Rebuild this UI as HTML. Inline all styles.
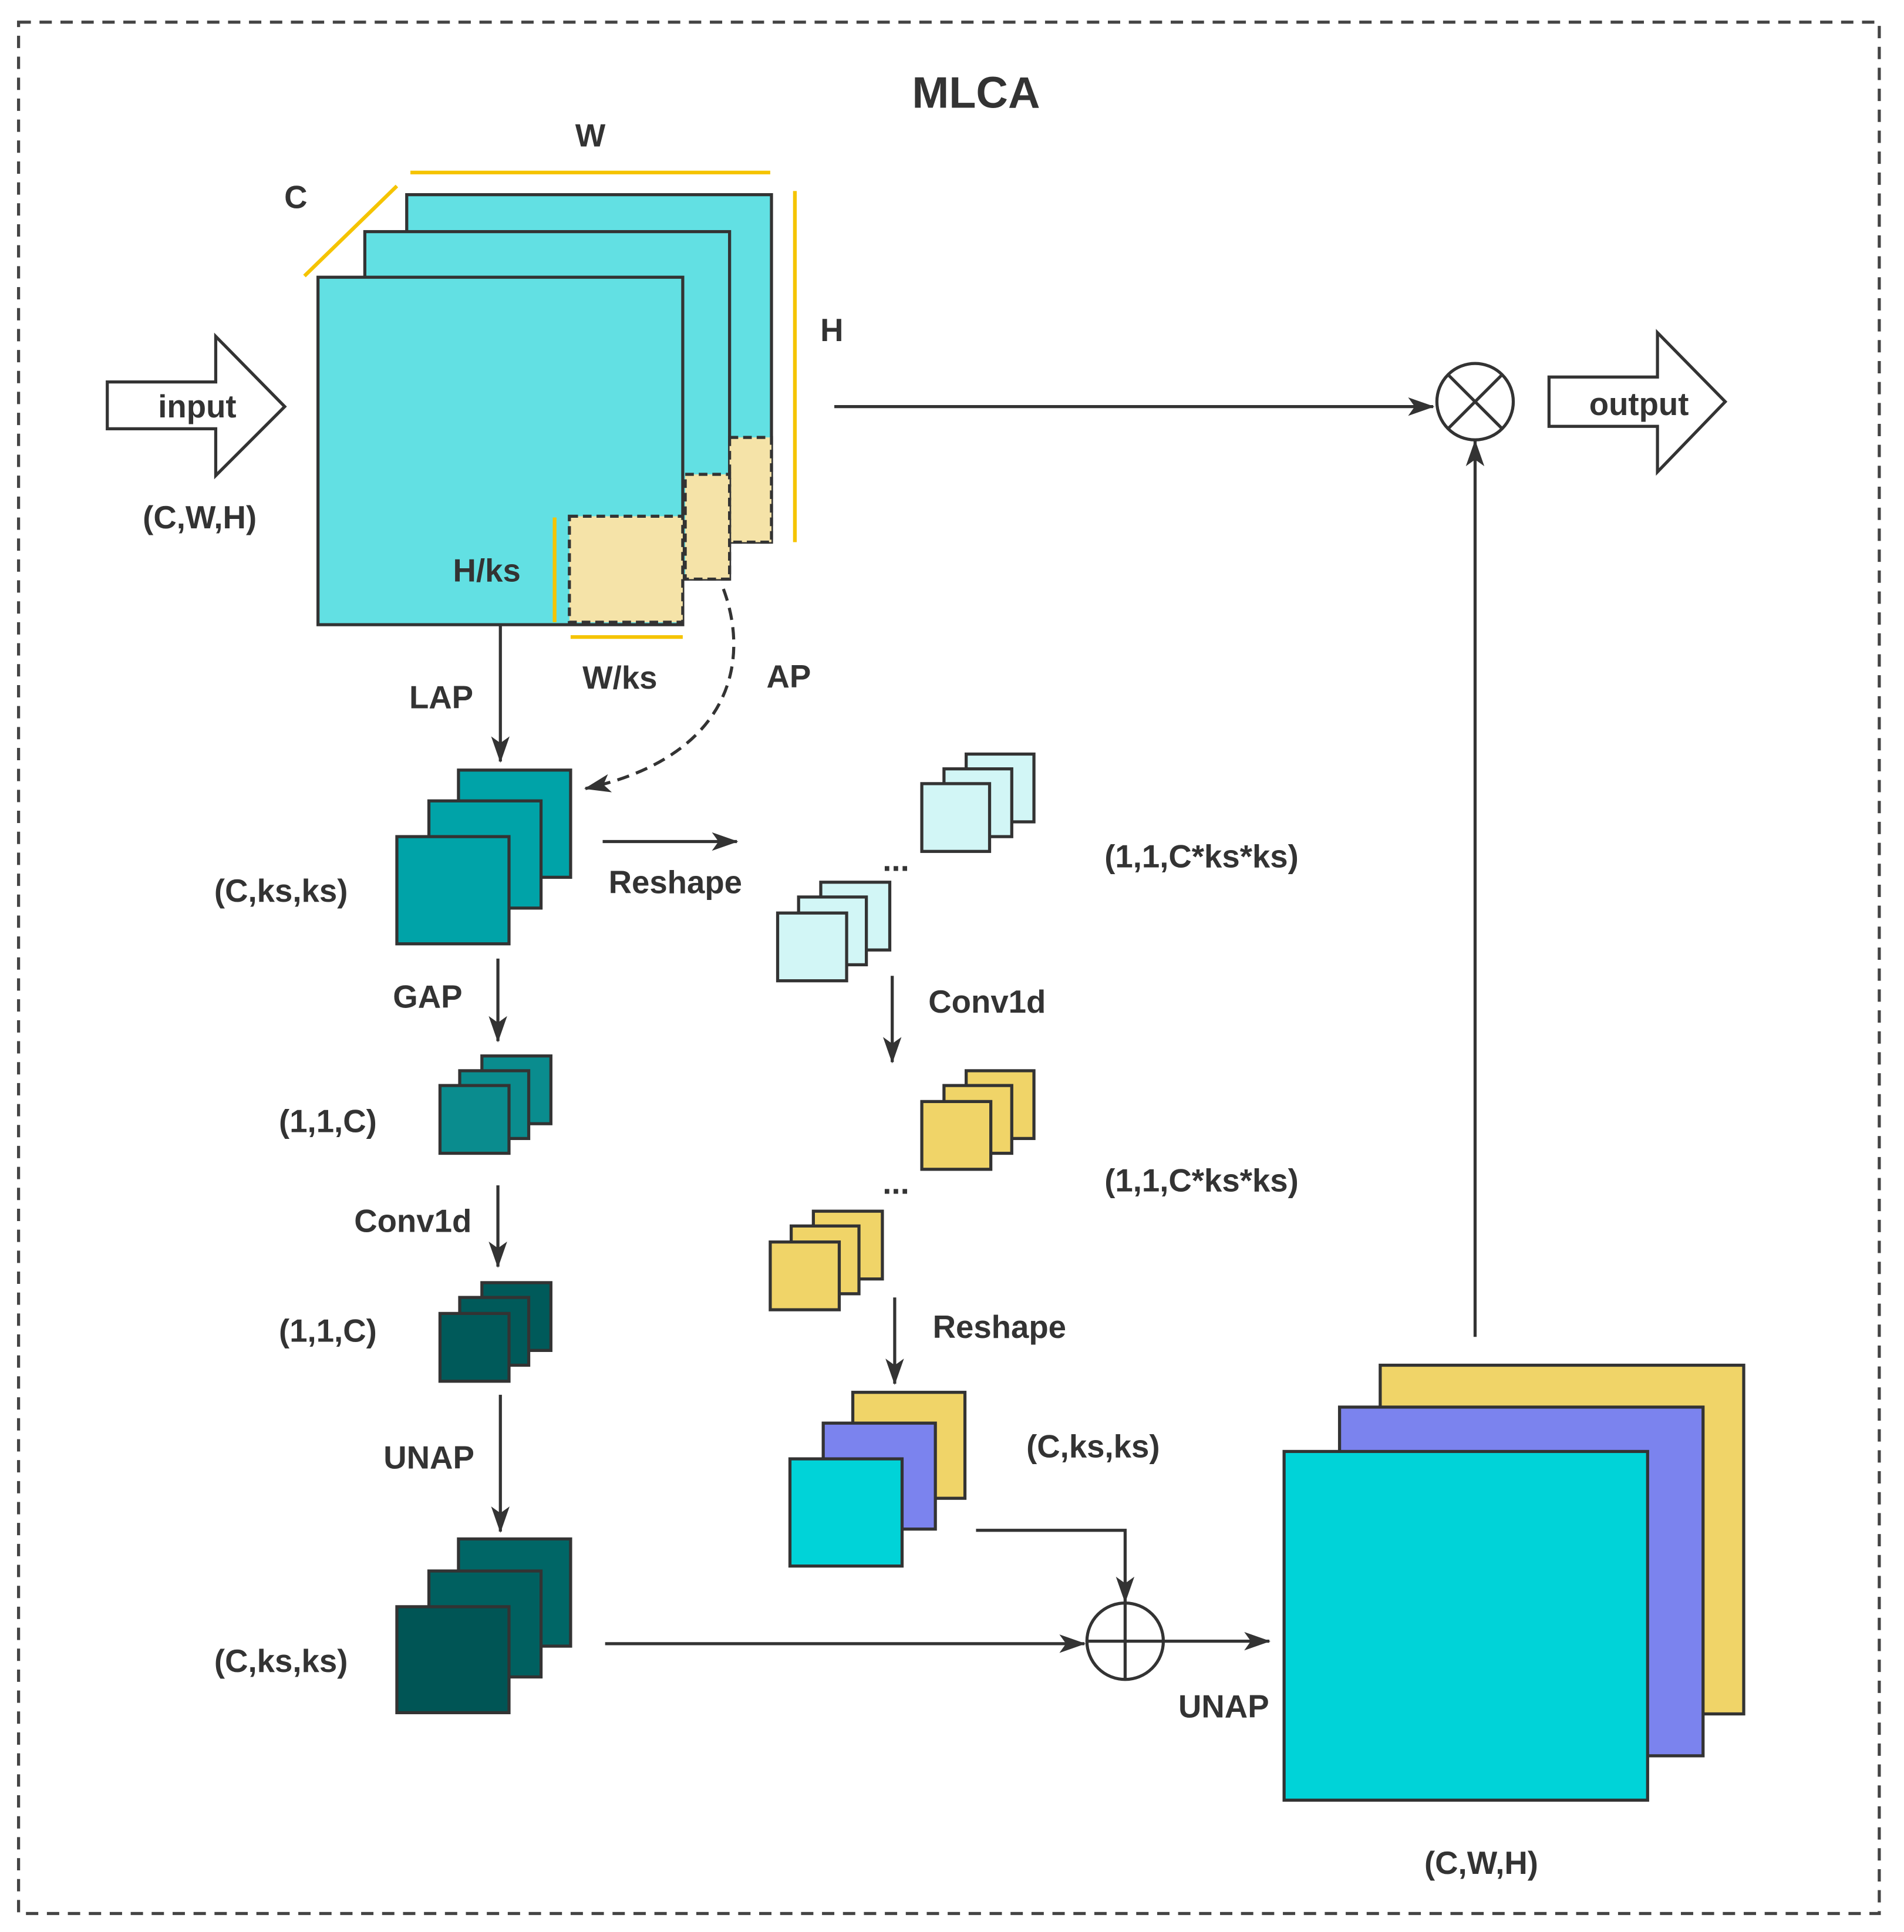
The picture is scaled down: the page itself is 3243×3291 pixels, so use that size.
<!DOCTYPE html>
<html><head><meta charset="utf-8"><style>
html,body{margin:0;padding:0;background:#fff;}
svg{display:block;}
text{font-family:"Liberation Sans",sans-serif;font-weight:bold;fill:#333;text-anchor:middle;dominant-baseline:middle;}
</style></head><body>
<svg width="3243" height="3291" viewBox="0 0 1545 1568" xmlns="http://www.w3.org/2000/svg">
<defs>
<marker id="ah" viewBox="0 0 10 10" refX="9" refY="5" markerWidth="8" markerHeight="8" markerUnits="userSpaceOnUse" orient="auto">
</marker>
<marker id="a" viewBox="0 0 20 14" refX="19" refY="7" markerWidth="22" markerHeight="15" markerUnits="userSpaceOnUse" orient="auto"><path d="M0,0 L20,7 L0,14 L5,7 Z" fill="#333"/></marker>
</defs>
<rect x="15" y="18" width="1510" height="1535" fill="none" stroke="#444" stroke-width="2.5" stroke-dasharray="10,7"/>
<text x="792" y="78" style="font-size:36px">MLCA</text>

<!-- big input cube -->
<g stroke="#333" stroke-width="2.5">
<rect x="330" y="158" width="296" height="282" fill="#62E0E3"/>
<rect x="296" y="188" width="296" height="282" fill="#62E0E3"/>
<rect x="258" y="225" width="296" height="282" fill="#62E0E3"/>
<rect x="592" y="355" width="34" height="85" fill="#F5E3A8" stroke-dasharray="7,4"/>
<rect x="556" y="385" width="36" height="85" fill="#F5E3A8" stroke-dasharray="7,4"/>
<rect x="462" y="419" width="92" height="86" fill="#F5E3A8" stroke-dasharray="7,4"/>
</g>
<g stroke="#F5C400" stroke-width="3">
<line x1="247" y1="224" x2="322" y2="151"/>
<line x1="333" y1="140" x2="625" y2="140"/>
<line x1="645" y1="155" x2="645" y2="440"/>
<line x1="450" y1="420" x2="450" y2="505"/>
<line x1="463" y1="517" x2="554" y2="517"/>
</g>
<g style="font-size:26px">
<text x="479" y="112">W</text>
<text x="240" y="162">C</text>
<text x="675" y="270">H</text>
<text x="395" y="465">H/ks</text>
<text x="503" y="552">W/ks</text>
<text x="640" y="551">AP</text>
<text x="358" y="568">LAP</text>
<text x="162" y="422">(C,W,H)</text>
<text x="228" y="725">(C,ks,ks)</text>
<text x="548" y="718">Reshape</text>
<text x="347" y="811">GAP</text>
<text x="266" y="912">(1,1,C)</text>
<text x="335" y="993">Conv1d</text>
<text x="266" y="1082">(1,1,C)</text>
<text x="348" y="1185">UNAP</text>
<text x="228" y="1350">(C,ks,ks)</text>
<text x="993" y="1387">UNAP</text>
<text x="975" y="697">(1,1,C*ks*ks)</text>
<text x="801" y="815">Conv1d</text>
<text x="975" y="960">(1,1,C*ks*ks)</text>
<text x="811" y="1079">Reshape</text>
<text x="887" y="1176">(C,ks,ks)</text>
<text x="1202" y="1514">(C,W,H)</text>
<text x="727" y="700">...</text>
<text x="727" y="962">...</text>
</g>

<!-- input / output arrows -->
<polygon points="87,310 175,310 175,273 231,330 175,386 175,348 87,348" fill="#fff" stroke="#333" stroke-width="2.5"/>
<text x="160" y="332" style="font-size:26px">input</text>
<polygon points="1257,306 1345,306 1345,270 1400,326 1345,383 1345,346 1257,346" fill="#fff" stroke="#333" stroke-width="2.5"/>
<text x="1330" y="330" style="font-size:26px">output</text>

<g stroke="#333" stroke-width="2.5" fill="none">
<line x1="677" y1="330" x2="1163" y2="330" marker-end="url(#a)"/>
<line x1="1197" y1="1085" x2="1197" y2="358" marker-end="url(#a)"/>
<line x1="406" y1="508" x2="406" y2="618" marker-end="url(#a)"/>
<path d="M587,478 C610,540 590,615 475,640" stroke-dasharray="10,6" marker-end="url(#a)"/>
<line x1="489" y1="683" x2="598" y2="683" marker-end="url(#a)"/>
<line x1="404" y1="778" x2="404" y2="845" marker-end="url(#a)"/>
<line x1="404" y1="962" x2="404" y2="1028" marker-end="url(#a)"/>
<line x1="406" y1="1132" x2="406" y2="1243" marker-end="url(#a)"/>
<line x1="491" y1="1334" x2="880" y2="1334" marker-end="url(#a)"/>
<line x1="944" y1="1332" x2="1030" y2="1332" marker-end="url(#a)"/>
<line x1="724" y1="792" x2="724" y2="862" marker-end="url(#a)"/>
<line x1="726" y1="1053" x2="726" y2="1123" marker-end="url(#a)"/>
<path d="M792,1242 L913,1242 L913,1300" marker-end="url(#a)"/>
<circle cx="1197" cy="326" r="31" fill="#fff"/>
<line x1="1175" y1="304" x2="1219" y2="348"/><line x1="1219" y1="304" x2="1175" y2="348"/>
<circle cx="913" cy="1332" r="31" fill="#fff"/>
<line x1="882" y1="1332" x2="944" y2="1332"/><line x1="913" y1="1301" x2="913" y2="1363"/>
</g>

<g stroke="#333" stroke-width="2.5">
<!-- teal C,ks,ks -->
<rect x="372" y="625" width="91" height="87" fill="#00A3A8"/>
<rect x="348" y="650" width="91" height="87" fill="#00A3A8"/>
<rect x="322" y="679" width="91" height="87" fill="#00A3A8"/>
<!-- 1,1,C -->
<rect x="391" y="857" width="56" height="55" fill="#0A8C8E"/>
<rect x="373" y="869" width="56" height="55" fill="#0A8C8E"/>
<rect x="357" y="881" width="56" height="55" fill="#0A8C8E"/>
<!-- dark 1,1,C -->
<rect x="391" y="1041" width="56" height="55" fill="#005A5A"/>
<rect x="373" y="1053" width="56" height="55" fill="#005A5A"/>
<rect x="357" y="1066" width="56" height="55" fill="#005A5A"/>
<!-- UNAP stack -->
<rect x="372" y="1249" width="91" height="87" fill="#006666"/>
<rect x="348" y="1275" width="91" height="86" fill="#006060"/>
<rect x="322" y="1304" width="91" height="86" fill="#005555"/>
<!-- light stacks -->
<rect x="784" y="612" width="55" height="55" fill="#D2F6F6"/>
<rect x="766" y="624" width="55" height="55" fill="#D2F6F6"/>
<rect x="748" y="636" width="55" height="55" fill="#D2F6F6"/>
<rect x="666" y="716" width="56" height="55" fill="#D2F6F6"/>
<rect x="648" y="728" width="55" height="55" fill="#D2F6F6"/>
<rect x="631" y="741" width="56" height="55" fill="#D2F6F6"/>
<!-- yellow stacks -->
<rect x="784" y="869" width="55" height="55" fill="#F0D468"/>
<rect x="766" y="881" width="55" height="55" fill="#F0D468"/>
<rect x="748" y="894" width="56" height="55" fill="#F0D468"/>
<rect x="660" y="983" width="56" height="55" fill="#F0D468"/>
<rect x="642" y="995" width="55" height="55" fill="#F0D468"/>
<rect x="625" y="1008" width="56" height="55" fill="#F0D468"/>
<!-- colorful small -->
<rect x="692" y="1130" width="91" height="86" fill="#F0D468"/>
<rect x="668" y="1155" width="91" height="86" fill="#7B83EE"/>
<rect x="641" y="1184" width="91" height="87" fill="#00D3D8"/>
<!-- big output -->
<rect x="1120" y="1108" width="295" height="283" fill="#F0D468"/>
<rect x="1087" y="1142" width="295" height="283" fill="#7B83EE"/>
<rect x="1042" y="1178" width="295" height="283" fill="#00D3D8"/>
</g>
</svg>
</body></html>
